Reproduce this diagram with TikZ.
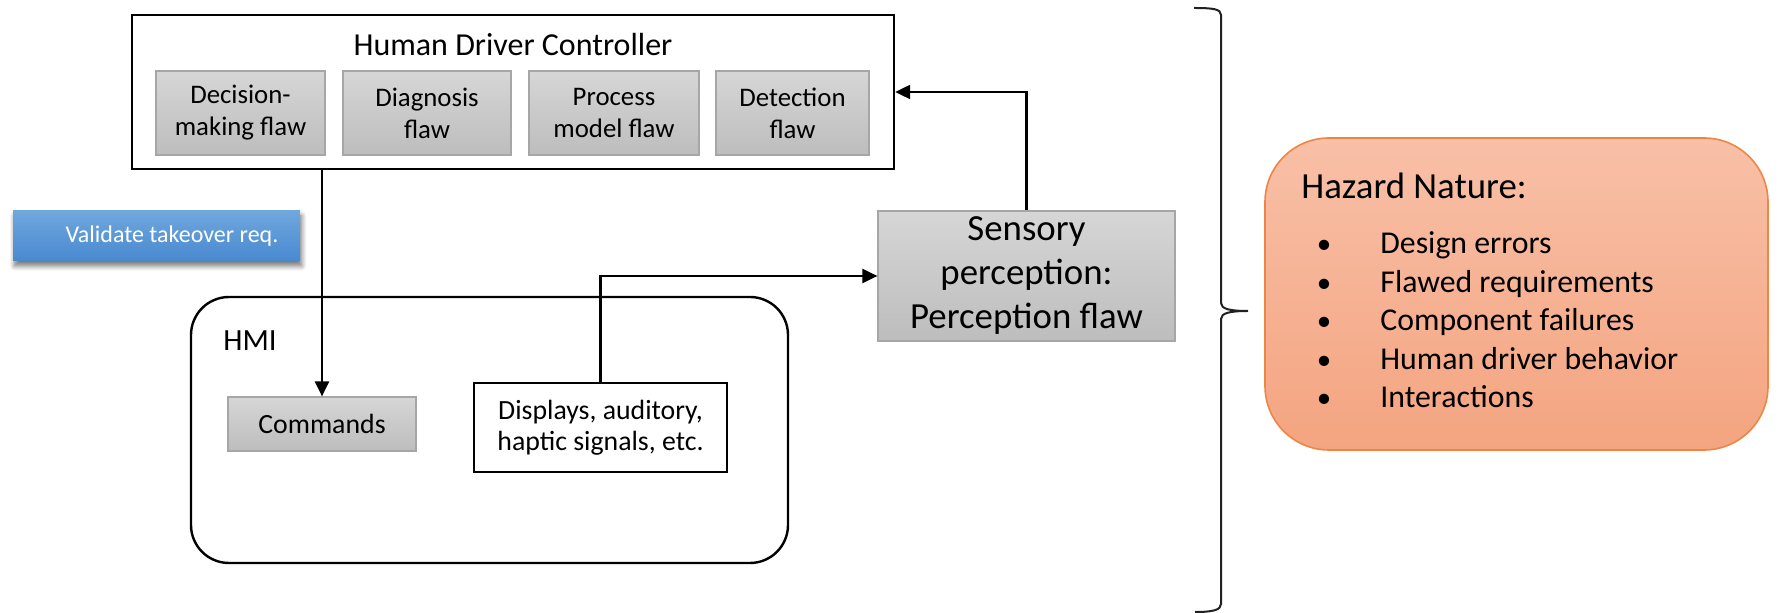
\documentclass[tikz,border=0pt]{standalone}
\usepackage{fontspec}
\setmainfont{Carlito}
\usetikzlibrary{arrows.meta,shadows.blur}

\definecolor{grayTop}{HTML}{D6D6D6}
\definecolor{grayBot}{HTML}{BDBDBD}
\definecolor{grayEdge}{HTML}{A6A6A6}
\definecolor{blueTop}{HTML}{70A7DE}
\definecolor{blueBot}{HTML}{4889CF}
\definecolor{hzTop}{HTML}{F8C0A7}
\definecolor{hzBot}{HTML}{F4A480}
\definecolor{hzEdge}{HTML}{EF8543}
\definecolor{braceCol}{HTML}{202020}

\newcommand\setfs[2]{\fontsize{#1}{#2}\selectfont}

\tikzset{
  graybox/.style={draw=grayEdge, line width=0.6pt, top color=grayTop, bottom color=grayBot,
                  align=center, inner sep=0pt},
  flawbox/.style={graybox, minimum height=42pt, font=\setfs{13.4pt}{16pt}},
  blackbox/.style={draw=black, line width=1.2pt, fill=white, inner sep=0pt, align=center},
  arr/.style={draw=black, line width=1.15pt, -{Triangle[length=7.5pt,width=7pt]}},
}

\begin{document}
\begin{tikzpicture}[x=0.5pt,y=-0.5pt]
\useasboundingbox (0,0) rectangle (1779,613);

% controller with its four flaw categories
\node[blackbox, minimum width=381pt, minimum height=77pt] (ctrl) at (513,92) {};
\node[font=\setfs{16pt}{19pt}] (ctrltitle) at (513,45) {Human Driver Controller};
\node[flawbox, minimum width=84.5pt] (dec)  at (240.5,113) {Decision-\\making flaw};
\node[flawbox, minimum width=84pt]   (diag) at (427,113)   {Diagnosis\\flaw};
\node[flawbox, minimum width=85pt]   (proc) at (614,113)   {Process\\model flaw};
\node[flawbox, minimum width=76.5pt] (det)  at (792.5,113) {Detection\\flaw};

% blue action button
\node[draw=none, top color=blueTop, bottom color=blueBot, minimum width=143.5pt, minimum height=25pt,
      blur shadow={shadow xshift=0.8pt, shadow yshift=-2.5pt, shadow blur radius=2.5pt,
                   shadow blur steps=8, shadow opacity=55}] (val) at (156.5,236) {};
\node[text=white, font=\setfs{12pt}{14pt}, inner sep=0pt] (valtext) at (172,236) {Validate takeover req.};

% human-machine interface
\node[draw=black, line width=1.2pt, rounded corners=19pt, minimum width=298.5pt, minimum height=133pt] (hmi) at (489.5,430) {};
\node[font=\setfs{15.4pt}{18pt}, inner sep=0pt] (hmilabel) at (250,341) {HMI};
\node[graybox, minimum width=94pt, minimum height=27pt, font=\setfs{13.9pt}{16pt}] (cmd) at (322,424) {Commands};
\node[blackbox, minimum width=126.5pt, minimum height=44.5pt, font=\setfs{13.9pt}{15.5pt}] (disp) at (600.5,427.5)
  {Displays, auditory,\\haptic signals, etc.};

% sensory perception
\node[graybox, minimum width=148.5pt, minimum height=65pt, font=\setfs{18.4pt}{22pt}] (sens) at (1026.5,276)
  {Sensory\\perception:\\Perception flaw};

% control loop connectors
\draw[arr] (cmd.north |- ctrl.south) -- (cmd.north);
\draw[arr] (disp.north) |- (sens.west);
\draw[arr] (sens.north) |- (ctrl.east);

% brace grouping the loop: short curled ends, long straight stems, sharp middle tip
\draw[braceCol, line width=1pt]
  (1194,8) .. controls (1213,8) and (1221,9) .. (1221,15)
  -- (1221,303) .. controls (1221,309) and (1230,311) .. (1248,311)
  .. controls (1230,311) and (1221,313) .. (1221,319)
  -- (1221,604) .. controls (1221,610) and (1213,612) .. (1195,612);

% hazard nature panel
\node[draw=hzEdge, line width=0.8pt, top color=hzTop, bottom color=hzBot, rounded corners=32pt,
      minimum width=251.5pt, minimum height=156pt] (haz) at (1516.5,294) {};
\node[anchor=base west, inner sep=0pt, font=\setfs{18.4pt}{22pt}] (haztitle) at (1301,199) {Hazard Nature:};
\foreach \name/\yy/\txt in {i1/254/Design errors, i2/292.5/Flawed requirements, i3/331/Component failures,
                            i4/369.5/Human driver behavior, i5/408/Interactions}{
  \node[anchor=base, inner sep=0pt, font=\setfs{14.5pt}{19pt}] (\name b) at (1324,\yy) {•};
  \node[anchor=base west, inner sep=0pt, font=\setfs{15.9pt}{19pt}] (\name) at (1380,\yy) {\txt};
}
\end{tikzpicture}
\end{document}
